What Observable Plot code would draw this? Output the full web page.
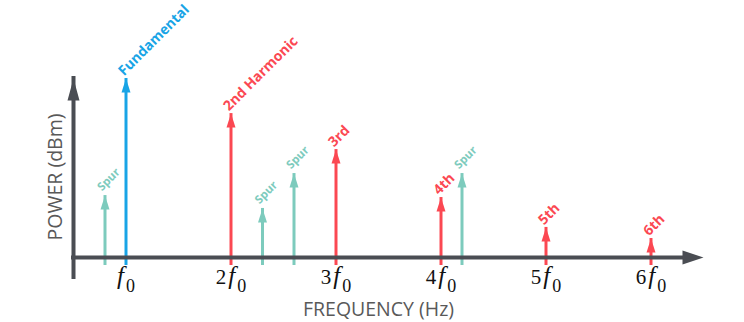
<!DOCTYPE html>
<html><head><meta charset="utf-8">
<script src="https://cdn.jsdelivr.net/npm/d3@7"></script>
<script src="https://cdn.jsdelivr.net/npm/@observablehq/plot@0.6"></script>
<style>body{margin:0;background:#fff}</style>
</head><body><div id="chart"></div>
<script>
// Harmonics (frequency in multiples of f0, power in arbitrary units)
const harmonicLabels = ["Fundamental", "2nd Harmonic", "3rd", "4th", "5th", "6th"];
const harmonicFreq = [1, 2, 3, 4, 5, 6];
const harmonicPower = [100, 80.4, 60.3, 33.5, 16.8, 10.6];
// Spurs
const spurLabels = ["Spur", "Spur", "Spur", "Spur"];
const spurFreq = [0.8, 2.3, 2.6, 4.2];
const spurPower = [34.6, 27.4, 46.9, 46.9];
// Tick labels
const tickLabels = ["f0", "2f0", "3f0", "4f0", "5f0", "6f0"];
const xLabel = "FREQUENCY (Hz)";
const yLabel = "POWER (dBm)";

const BLUE = "#18a4e6", RED = "#fb4852", TEAL = "#7dcbbd", AXIS = "#4a4d53", GRAY = "#595959";

const harmonics = harmonicFreq.map((f, i) => ({freq: f, power: harmonicPower[i], label: harmonicLabels[i], color: i === 0 ? BLUE : RED}));
const spurs = spurFreq.map((f, i) => ({freq: f, power: spurPower[i], label: spurLabels[i]}));

const upHead = (w, l) => ({draw(ctx) { ctx.moveTo(0, 0); ctx.lineTo(w / 2, l); ctx.lineTo(-w / 2, l); ctx.closePath(); }});
const rightHead = (w, l) => ({draw(ctx) { ctx.moveTo(0, 0); ctx.lineTo(-l, -w / 2); ctx.lineTo(-l, w / 2); ctx.closePath(); }});

const X0 = 0.5, X1 = 6.5, Y1 = 100;
const labelFont = "Open Sans, Noto Sans, sans-serif";

const chart = Plot.plot({
  width: 744, height: 322,
  marginLeft: 73, marginRight: 41, marginTop: 78, marginBottom: 65,
  x: {domain: [X0, X1], axis: null},
  y: {domain: [0, Y1], axis: null},
  color: {type: "identity"},
  style: {background: "white"},
  marks: [
    // stems
    Plot.ruleX(spurs, {x: "freq", y1: 0, y2: "power", stroke: TEAL, strokeWidth: 3, insetTop: 8}),
    Plot.ruleX(harmonics, {x: "freq", y1: 0, y2: "power", stroke: "color", strokeWidth: 3, insetTop: 8}),
    // arrowheads
    Plot.dot(spurs, {x: "freq", y: "power", symbol: upHead(9, 14), fill: TEAL, stroke: null}),
    Plot.dot(harmonics, {x: "freq", y: "power", symbol: upHead(9, 14), fill: "color", stroke: null}),
    // labels
    Plot.text(spurs, {x: "freq", y: "power", text: "label", rotate: -45, textAnchor: "start", lineAnchor: "bottom",
      dx: -3, dy: -4, fill: TEAL, fontWeight: "bold", fontSize: 11.5, fontFamily: labelFont}),
    Plot.text(harmonics, {x: "freq", y: "power", text: "label", rotate: -45, textAnchor: "start", lineAnchor: "bottom",
      dx: -2, dy: -2, fill: "color", fontWeight: "bold", fontSize: 14, fontFamily: labelFont}),
    // axes
    Plot.ruleY([0], {x1: X0, x2: X1, stroke: AXIS, strokeWidth: 4, insetRight: 18, strokeLinecap: "square"}),
    Plot.ruleX([X0], {y1: 0, y2: Y1, stroke: AXIS, strokeWidth: 4, insetTop: 20, strokeLinecap: "square"}),
    Plot.dot([X1], {x: d => d, y: () => 0, symbol: rightHead(14, 21), fill: AXIS, stroke: null}),
    Plot.dot([X0], {x: d => d, y: () => Y1, symbol: upHead(12, 22), fill: AXIS, stroke: null}),
    // tick labels
    Plot.text(tickLabels, {x: (d, i) => harmonicFreq[i], frameAnchor: "bottom", lineAnchor: "bottom", dy: 26,
      fontSize: 21, fontFamily: "Liberation Serif, DejaVu Serif, serif", fill: "#111"}),
    // axis titles
    Plot.text([xLabel], {frameAnchor: "bottom", lineAnchor: "bottom", textAnchor: "middle", dx: -10, dy: 58, fontSize: 19.5, fill: GRAY, fontFamily: labelFont}),
    Plot.text([yLabel], {frameAnchor: "left", textAnchor: "middle", rotate: -90, dx: -18, dy: 9, fontSize: 19.5, fill: GRAY, fontFamily: labelFont})
  ]
});

// Format tick labels as math: coefficient, italic f, subscript 0
const NS = "http://www.w3.org/2000/svg";
chart.querySelectorAll("text").forEach(t => {
  const m = t.textContent.match(/^(\d*)f(\d)$/);
  if (!m) return;
  while (t.firstChild) t.removeChild(t.firstChild);
  if (m[1]) { const a = document.createElementNS(NS, "tspan"); a.textContent = m[1]; t.appendChild(a); }
  const f = document.createElementNS(NS, "tspan"); f.textContent = "f"; f.setAttribute("font-style", "italic"); f.setAttribute("font-size", "25"); f.setAttribute("dx", m[1] ? "2" : "0"); t.appendChild(f);
  const s = document.createElementNS(NS, "tspan"); s.textContent = m[2]; s.setAttribute("font-size", "18"); s.setAttribute("dy", "8"); s.setAttribute("dx", "2"); t.appendChild(s);
});

document.getElementById("chart").append(chart);
</script>
</body></html>
